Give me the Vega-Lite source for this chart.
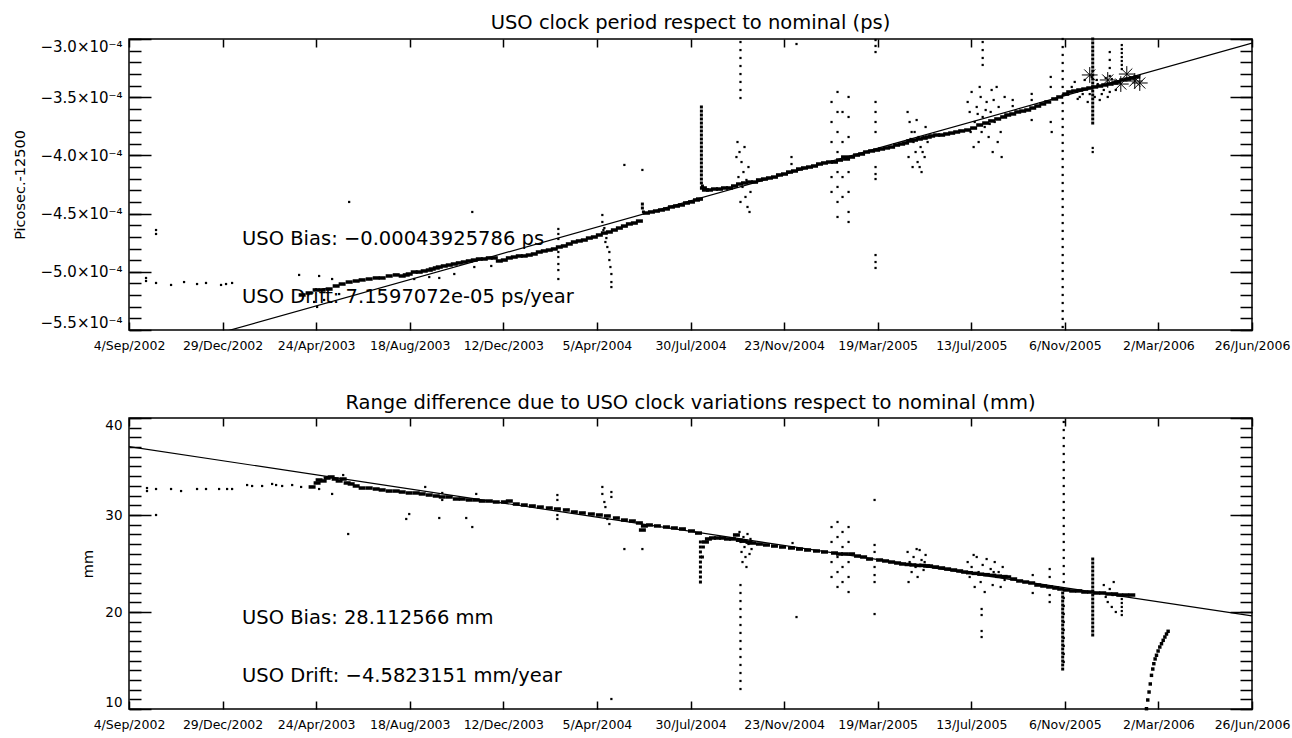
{
"$schema": "https://vega.github.io/schema/vega-lite/v6.json",
"background": "white",
"padding": {"left": 11, "top": 12, "right": 0, "bottom": 0},
"config": {
  "font": "DejaVu Sans",
  "view": {"stroke": "black", "strokeWidth": 1.5},
  "axis": {"grid": false, "domain": false, "labelColor": "black", "tickColor": "black", "tickWidth": 1.5, "titleColor": "black", "labelFont": "DejaVu Sans", "titleFont": "DejaVu Sans", "titleFontWeight": "normal"},
  "title": {"font": "DejaVu Sans", "fontWeight": "normal", "fontSize": 19.5, "color": "black", "anchor": "middle", "frame": "group", "offset": 0, "baseline": "alphabetic"}
},
"spacing": 88,
"bounds": "flush",
"datasets": {
"topTrace": [
{"d":214.5,"v":-5.199e-4},{"d":223.1,"v":-5.182e-4},{"d":231.8,"v":-5.156e-4},{"d":239.2,"v":-5.156e-4},{"d":247.9,"v":-5.148e-4},{"d":256.6,"v":-5.122e-4},{"d":264.0,"v":-5.105e-4},{"d":272.7,"v":-5.088e-4},{"d":281.4,"v":-5.079e-4},{"d":288.8,"v":-5.070e-4},{"d":297.5,"v":-5.062e-4},{"d":306.2,"v":-5.053e-4},{"d":313.6,"v":-5.053e-4},{"d":322.3,"v":-5.036e-4},{"d":331.0,"v":-5.027e-4},
{"d":338.4,"v":-5.036e-4},{"d":343.4,"v":-5.027e-4},{"d":347.1,"v":-5.019e-4},{"d":353.3,"v":-5.002e-4},{"d":359.5,"v":-5.002e-4},{"d":365.7,"v":-4.993e-4},{"d":371.9,"v":-4.985e-4},{"d":375.6,"v":-4.976e-4},{"d":380.6,"v":-4.967e-4},{"d":384.3,"v":-4.959e-4},{"d":390.5,"v":-4.950e-4},{"d":396.7,"v":-4.942e-4},{"d":402.9,"v":-4.933e-4},{"d":409.1,"v":-4.924e-4},{"d":415.3,"v":-4.916e-4},{"d":421.5,"v":-4.907e-4},{"d":427.7,"v":-4.899e-4},{"d":433.9,"v":-4.890e-4},{"d":440.1,"v":-4.890e-4},{"d":446.3,"v":-4.881e-4},{"d":452.5,"v":-4.881e-4},{"d":458.7,"v":-4.907e-4},
{"d":464.9,"v":-4.899e-4},{"d":471.1,"v":-4.881e-4},{"d":477.2,"v":-4.873e-4},{"d":483.4,"v":-4.864e-4},{"d":489.6,"v":-4.864e-4},{"d":495.8,"v":-4.856e-4},{"d":502.0,"v":-4.847e-4},{"d":508.2,"v":-4.830e-4},{"d":514.4,"v":-4.821e-4},{"d":520.6,"v":-4.813e-4},{"d":526.8,"v":-4.804e-4},{"d":533.0,"v":-4.787e-4},{"d":539.2,"v":-4.778e-4},{"d":545.4,"v":-4.761e-4},{"d":551.6,"v":-4.744e-4},{"d":557.8,"v":-4.735e-4},{"d":564.0,"v":-4.727e-4},{"d":570.2,"v":-4.710e-4},{"d":576.4,"v":-4.701e-4},{"d":582.6,"v":-4.684e-4},{"d":588.8,"v":-4.667e-4},{"d":595.0,"v":-4.658e-4},{"d":601.2,"v":-4.641e-4},{"d":607.4,"v":-4.624e-4},{"d":613.6,"v":-4.607e-4},{"d":619.8,"v":-4.589e-4},{"d":626.0,"v":-4.581e-4},{"d":632.2,"v":-4.564e-4},
{"d":640.9,"v":-4.495e-4},{"d":647.1,"v":-4.486e-4},{"d":653.3,"v":-4.478e-4},{"d":659.5,"v":-4.469e-4},{"d":665.7,"v":-4.460e-4},{"d":671.9,"v":-4.443e-4},{"d":678.1,"v":-4.435e-4},{"d":684.3,"v":-4.426e-4},{"d":690.5,"v":-4.409e-4},{"d":696.7,"v":-4.400e-4},{"d":702.9,"v":-4.383e-4},{"d":706.6,"v":-4.375e-4},
{"d":711.5,"v":-4.280e-4},{"d":714.0,"v":-4.297e-4},
{"d":719.0,"v":-4.297e-4},{"d":725.2,"v":-4.289e-4},{"d":731.4,"v":-4.289e-4},{"d":737.6,"v":-4.280e-4},{"d":743.8,"v":-4.280e-4},{"d":750.0,"v":-4.263e-4},{"d":756.2,"v":-4.246e-4},{"d":762.4,"v":-4.237e-4},{"d":768.6,"v":-4.229e-4},
{"d":774.8,"v":-4.229e-4},{"d":780.9,"v":-4.211e-4},{"d":787.1,"v":-4.203e-4},{"d":793.3,"v":-4.194e-4},{"d":799.5,"v":-4.186e-4},{"d":805.7,"v":-4.168e-4},{"d":811.9,"v":-4.160e-4},{"d":818.1,"v":-4.143e-4},{"d":824.3,"v":-4.134e-4},{"d":830.5,"v":-4.117e-4},{"d":836.7,"v":-4.108e-4},{"d":842.9,"v":-4.100e-4},{"d":849.1,"v":-4.091e-4},{"d":855.3,"v":-4.074e-4},{"d":861.5,"v":-4.065e-4},{"d":867.7,"v":-4.057e-4},
{"d":873.9,"v":-4.057e-4},{"d":880.1,"v":-4.040e-4},{"d":886.3,"v":-4.014e-4},{"d":888.8,"v":-4.031e-4},
{"d":895.0,"v":-4.014e-4},{"d":901.2,"v":-3.997e-4},{"d":907.4,"v":-3.988e-4},{"d":913.6,"v":-3.971e-4},{"d":919.8,"v":-3.962e-4},{"d":926.0,"v":-3.954e-4},
{"d":932.2,"v":-3.945e-4},{"d":938.4,"v":-3.936e-4},{"d":944.6,"v":-3.928e-4},{"d":950.8,"v":-3.911e-4},{"d":957.0,"v":-3.902e-4},{"d":961.9,"v":-3.893e-4},
{"d":967.0,"v":-3.876e-4},{"d":973.0,"v":-3.868e-4},{"d":979.0,"v":-3.859e-4},{"d":985.0,"v":-3.851e-4},{"d":990.0,"v":-3.842e-4},
{"d":994.2,"v":-3.833e-4},{"d":1000.4,"v":-3.825e-4},{"d":1006.6,"v":-3.825e-4},{"d":1012.8,"v":-3.816e-4},{"d":1019.0,"v":-3.808e-4},{"d":1025.2,"v":-3.799e-4},{"d":1031.4,"v":-3.790e-4},
{"d":1038.8,"v":-3.782e-4},{"d":1046.2,"v":-3.765e-4},{"d":1053.7,"v":-3.739e-4},{"d":1061.1,"v":-3.722e-4},{"d":1068.5,"v":-3.704e-4},{"d":1076.0,"v":-3.687e-4},{"d":1083.4,"v":-3.670e-4},
{"d":1088.4,"v":-3.653e-4},{"d":1094.6,"v":-3.644e-4},{"d":1100.8,"v":-3.627e-4},{"d":1107.0,"v":-3.619e-4},{"d":1113.2,"v":-3.610e-4},{"d":1119.4,"v":-3.593e-4},{"d":1125.6,"v":-3.576e-4},{"d":1131.8,"v":-3.558e-4},{"d":1138.0,"v":-3.541e-4},{"d":1146.6,"v":-3.515e-4},{"d":1152.8,"v":-3.498e-4},
{"d":1160.3,"v":-3.473e-4},{"d":1165.2,"v":-3.455e-4},{"d":1171.4,"v":-3.447e-4},{"d":1177.6,"v":-3.438e-4},{"d":1183.8,"v":-3.430e-4},{"d":1190.0,"v":-3.421e-4},{"d":1196.2,"v":-3.412e-4},{"d":1202.4,"v":-3.404e-4},{"d":1208.6,"v":-3.395e-4},{"d":1214.8,"v":-3.387e-4},{"d":1221.0,"v":-3.378e-4},
{"d":1224.7,"v":-3.369e-4},{"d":1230.9,"v":-3.352e-4},{"d":1237.1,"v":-3.344e-4},{"d":1243.3,"v":-3.335e-4},{"d":1248.3,"v":-3.326e-4}
],
"topSpikes": [
{"d":635.9,"v":-4.418e-4},{"d":635.9,"v":-4.452e-4},{"d":637.2,"v":-4.486e-4},
{"d":709.0,"v":-3.584e-4},{"d":709.0,"v":-3.619e-4},{"d":709.0,"v":-3.653e-4},{"d":709.0,"v":-3.687e-4},{"d":709.0,"v":-3.722e-4},{"d":709.0,"v":-3.756e-4},{"d":709.0,"v":-3.790e-4},{"d":709.0,"v":-3.825e-4},{"d":709.0,"v":-3.859e-4},{"d":709.0,"v":-3.893e-4},{"d":709.0,"v":-3.928e-4},{"d":709.0,"v":-3.962e-4},{"d":709.0,"v":-3.997e-4},{"d":709.0,"v":-4.031e-4},{"d":709.0,"v":-4.065e-4},{"d":709.0,"v":-4.100e-4},{"d":709.0,"v":-4.134e-4},{"d":709.0,"v":-4.168e-4},{"d":709.0,"v":-4.203e-4},{"d":709.0,"v":-4.237e-4},{"d":710.3,"v":-4.263e-4},
{"d":1193.7,"v":-3.000e-4},{"d":1193.7,"v":-3.034e-4},{"d":1193.7,"v":-3.069e-4},{"d":1193.7,"v":-3.103e-4},{"d":1193.7,"v":-3.137e-4},{"d":1193.7,"v":-3.172e-4},{"d":1193.7,"v":-3.206e-4},{"d":1193.7,"v":-3.241e-4},{"d":1193.7,"v":-3.275e-4},{"d":1193.7,"v":-3.309e-4},{"d":1193.7,"v":-3.344e-4},{"d":1193.7,"v":-3.378e-4},{"d":1193.7,"v":-3.412e-4},{"d":1193.7,"v":-3.447e-4},{"d":1193.7,"v":-3.481e-4},{"d":1193.7,"v":-3.515e-4},{"d":1193.7,"v":-3.550e-4},{"d":1193.7,"v":-3.584e-4},{"d":1193.7,"v":-3.619e-4},{"d":1193.7,"v":-3.653e-4},{"d":1193.7,"v":-3.687e-4},{"d":1193.7,"v":-3.722e-4}
],
"topScatter": [
{"d":21.1,"v":-5.053e-4},{"d":21.1,"v":-5.079e-4},{"d":33.5,"v":-5.096e-4},{"d":52.1,"v":-5.113e-4},{"d":68.2,"v":-5.088e-4},{"d":84.3,"v":-5.105e-4},{"d":95.4,"v":-5.096e-4},{"d":114.0,"v":-5.113e-4},{"d":120.2,"v":-5.105e-4},{"d":127.7,"v":-5.096e-4},{"d":33.5,"v":-4.675e-4},{"d":33.5,"v":-4.641e-4},{"d":210.7,"v":-5.027e-4},{"d":235.5,"v":-5.036e-4},{"d":251.6,"v":-5.062e-4},{"d":272.7,"v":-4.400e-4},{"d":425.2,"v":-4.486e-4},
{"d":229.3,"v":-5.259e-4},{"d":233.0,"v":-5.302e-4},{"d":241.7,"v":-5.242e-4},{"d":247.9,"v":-5.259e-4},{"d":260.3,"v":-5.191e-4},
{"d":353.3,"v":-5.062e-4},{"d":371.9,"v":-5.045e-4},{"d":384.3,"v":-5.053e-4},{"d":402.9,"v":-5.019e-4},{"d":427.7,"v":-4.959e-4},{"d":448.7,"v":-4.950e-4},
{"d":531.8,"v":-4.632e-4},{"d":531.8,"v":-4.675e-4},{"d":531.8,"v":-4.718e-4},{"d":531.8,"v":-4.830e-4},{"d":531.8,"v":-4.873e-4},{"d":531.8,"v":-4.933e-4},{"d":531.8,"v":-4.985e-4},{"d":531.8,"v":-5.062e-4},
{"d":586.3,"v":-4.512e-4},{"d":586.3,"v":-4.572e-4},{"d":587.6,"v":-4.641e-4},{"d":588.8,"v":-4.624e-4},{"d":590.1,"v":-4.744e-4},{"d":591.3,"v":-4.710e-4},{"d":592.5,"v":-4.787e-4},{"d":595.0,"v":-4.830e-4},{"d":595.0,"v":-4.899e-4},{"d":596.3,"v":-4.959e-4},{"d":597.5,"v":-5.019e-4},{"d":597.5,"v":-5.088e-4},{"d":597.5,"v":-5.131e-4},
{"d":613.6,"v":-4.082e-4},{"d":635.9,"v":-4.125e-4},{"d":826.8,"v":-3.043e-4},
{"d":752.4,"v":-4.014e-4},{"d":753.7,"v":-3.885e-4},{"d":754.9,"v":-4.186e-4},{"d":756.2,"v":-3.971e-4},{"d":757.4,"v":-4.400e-4},{"d":758.7,"v":-4.057e-4},{"d":759.9,"v":-4.271e-4},{"d":761.1,"v":-4.143e-4},{"d":762.4,"v":-3.928e-4},{"d":763.6,"v":-4.357e-4},{"d":764.8,"v":-4.211e-4},{"d":766.1,"v":-4.443e-4},{"d":767.3,"v":-4.100e-4},{"d":768.6,"v":-4.486e-4},{"d":769.8,"v":-4.314e-4},
{"d":757.4,"v":-3.026e-4},{"d":757.4,"v":-3.095e-4},{"d":757.4,"v":-3.163e-4},{"d":757.4,"v":-3.232e-4},{"d":757.4,"v":-3.301e-4},{"d":757.4,"v":-3.369e-4},{"d":757.4,"v":-3.438e-4},{"d":757.4,"v":-3.507e-4},
{"d":820.6,"v":-4.014e-4},{"d":820.6,"v":-4.074e-4},
{"d":870.2,"v":-3.541e-4},{"d":870.2,"v":-3.713e-4},{"d":870.2,"v":-3.885e-4},{"d":870.2,"v":-4.186e-4},{"d":870.2,"v":-4.314e-4},
{"d":877.6,"v":-3.455e-4},{"d":877.6,"v":-3.627e-4},{"d":877.6,"v":-3.799e-4},{"d":877.6,"v":-3.971e-4},{"d":877.6,"v":-4.143e-4},{"d":877.6,"v":-4.271e-4},{"d":877.6,"v":-4.400e-4},{"d":877.6,"v":-4.529e-4},
{"d":883.8,"v":-3.627e-4},{"d":883.8,"v":-3.885e-4},{"d":883.8,"v":-4.186e-4},{"d":883.8,"v":-4.357e-4},
{"d":891.3,"v":-3.498e-4},{"d":891.3,"v":-3.670e-4},{"d":891.3,"v":-3.842e-4},{"d":891.3,"v":-4.143e-4},{"d":891.3,"v":-4.314e-4},{"d":891.3,"v":-4.486e-4},{"d":891.3,"v":-4.572e-4},
{"d":924.7,"v":-3.541e-4},{"d":924.7,"v":-3.627e-4},{"d":924.7,"v":-3.713e-4},{"d":924.7,"v":-3.799e-4},{"d":924.7,"v":-4.100e-4},{"d":924.7,"v":-4.160e-4},{"d":924.7,"v":-4.203e-4},{"d":924.7,"v":-3.009e-4},{"d":924.7,"v":-3.060e-4},{"d":924.7,"v":-3.112e-4},{"d":924.7,"v":-4.856e-4},{"d":924.7,"v":-4.916e-4},{"d":924.7,"v":-4.967e-4},
{"d":964.4,"v":-3.627e-4},{"d":965.6,"v":-4.014e-4},{"d":966.9,"v":-3.713e-4},{"d":968.1,"v":-3.859e-4},{"d":969.4,"v":-3.799e-4},{"d":970.6,"v":-4.100e-4},{"d":971.8,"v":-3.885e-4},{"d":973.1,"v":-3.799e-4},{"d":974.3,"v":-3.971e-4},{"d":975.6,"v":-3.696e-4},{"d":976.8,"v":-4.057e-4},{"d":978.0,"v":-3.842e-4},{"d":979.3,"v":-4.100e-4},{"d":980.5,"v":-3.928e-4},{"d":981.7,"v":-4.143e-4},{"d":983.0,"v":-3.971e-4},{"d":984.2,"v":-3.842e-4},{"d":985.5,"v":-4.014e-4},{"d":986.7,"v":-3.756e-4},{"d":989.2,"v":-3.885e-4},
{"d":1038.8,"v":-3.541e-4},{"d":1041.3,"v":-3.627e-4},{"d":1042.5,"v":-3.799e-4},{"d":1043.7,"v":-3.455e-4},{"d":1046.2,"v":-3.928e-4},{"d":1047.5,"v":-3.713e-4},{"d":1050.0,"v":-3.584e-4},{"d":1051.2,"v":-3.644e-4},{"d":1052.4,"v":-3.885e-4},{"d":1053.7,"v":-3.412e-4},{"d":1054.9,"v":-3.498e-4},{"d":1056.1,"v":-3.799e-4},{"d":1057.4,"v":-3.670e-4},{"d":1059.9,"v":-3.756e-4},{"d":1061.1,"v":-3.610e-4},{"d":1062.3,"v":-3.541e-4},{"d":1064.8,"v":-3.842e-4},{"d":1066.1,"v":-3.730e-4},{"d":1067.3,"v":-3.627e-4},{"d":1068.5,"v":-3.438e-4},{"d":1069.8,"v":-3.971e-4},{"d":1071.0,"v":-3.524e-4},{"d":1072.3,"v":-3.713e-4},{"d":1074.7,"v":-3.412e-4},{"d":1076.0,"v":-3.885e-4},{"d":1077.2,"v":-3.584e-4},{"d":1079.7,"v":-3.799e-4},{"d":1080.9,"v":-4.014e-4},{"d":1082.2,"v":-3.670e-4},{"d":1084.6,"v":-3.498e-4},
{"d":1057.4,"v":-3.026e-4},{"d":1057.4,"v":-3.095e-4},{"d":1057.4,"v":-3.163e-4},{"d":1057.4,"v":-3.223e-4},
{"d":1118.1,"v":-3.472e-4},{"d":1118.1,"v":-3.524e-4},{"d":1118.1,"v":-3.696e-4},{"d":1094.6,"v":-3.524e-4},{"d":1094.6,"v":-3.576e-4},{"d":1141.7,"v":-3.326e-4},{"d":1141.7,"v":-3.412e-4},{"d":1141.7,"v":-3.713e-4},{"d":1142.9,"v":-3.799e-4},
{"d":1156.5,"v":-3.000e-4},{"d":1156.5,"v":-3.069e-4},{"d":1156.5,"v":-3.137e-4},{"d":1156.5,"v":-3.206e-4},{"d":1156.5,"v":-3.275e-4},{"d":1156.5,"v":-3.344e-4},{"d":1156.5,"v":-3.412e-4},{"d":1156.5,"v":-3.481e-4},{"d":1156.5,"v":-3.550e-4},{"d":1156.5,"v":-3.619e-4},{"d":1156.5,"v":-3.687e-4},{"d":1156.5,"v":-3.756e-4},{"d":1156.5,"v":-3.825e-4},{"d":1156.5,"v":-3.893e-4},{"d":1156.5,"v":-3.962e-4},{"d":1156.5,"v":-4.031e-4},{"d":1156.5,"v":-4.100e-4},{"d":1156.5,"v":-4.168e-4},{"d":1156.5,"v":-4.237e-4},{"d":1156.5,"v":-4.306e-4},{"d":1156.5,"v":-4.375e-4},{"d":1156.5,"v":-4.443e-4},{"d":1156.5,"v":-4.512e-4},{"d":1156.5,"v":-4.581e-4},{"d":1156.5,"v":-4.649e-4},{"d":1156.5,"v":-4.718e-4},{"d":1156.5,"v":-4.787e-4},{"d":1156.5,"v":-4.856e-4},{"d":1156.5,"v":-4.924e-4},{"d":1156.5,"v":-4.993e-4},{"d":1156.5,"v":-5.062e-4},{"d":1156.5,"v":-5.131e-4},{"d":1156.5,"v":-5.199e-4},{"d":1156.5,"v":-5.268e-4},{"d":1156.5,"v":-5.337e-4},{"d":1156.5,"v":-5.405e-4},{"d":1156.5,"v":-5.474e-4},
{"d":1167.7,"v":-3.412e-4},{"d":1171.4,"v":-3.369e-4},{"d":1175.1,"v":-3.515e-4},{"d":1177.6,"v":-3.498e-4},{"d":1181.3,"v":-3.473e-4},{"d":1183.8,"v":-3.352e-4},{"d":1187.5,"v":-3.541e-4},{"d":1190.0,"v":-3.473e-4},{"d":1192.5,"v":-3.326e-4},{"d":1196.2,"v":-3.498e-4},{"d":1198.7,"v":-3.352e-4},{"d":1199.9,"v":-3.387e-4},{"d":1202.4,"v":-3.524e-4},{"d":1204.9,"v":-3.473e-4},{"d":1207.4,"v":-3.438e-4},{"d":1209.8,"v":-3.335e-4},{"d":1212.3,"v":-3.498e-4},{"d":1214.8,"v":-3.455e-4},{"d":1217.3,"v":-3.344e-4},{"d":1222.3,"v":-3.438e-4},
{"d":1193.7,"v":-3.936e-4},{"d":1193.7,"v":-3.971e-4},
{"d":1214.8,"v":-3.112e-4},{"d":1214.8,"v":-3.180e-4},{"d":1214.8,"v":-3.249e-4},{"d":1214.8,"v":-3.318e-4},
{"d":1229.7,"v":-3.052e-4},{"d":1229.7,"v":-3.086e-4},{"d":1229.7,"v":-3.120e-4},{"d":1229.7,"v":-3.155e-4},{"d":1229.7,"v":-3.189e-4},{"d":1229.7,"v":-3.223e-4},{"d":1229.7,"v":-3.258e-4}
],
"topStars": [
{"d":1190.0,"v":-3.309e-4},{"d":1235.9,"v":-3.301e-4},{"d":1245.8,"v":-3.361e-4},{"d":1252.0,"v":-3.378e-4},{"d":1228.5,"v":-3.387e-4},{"d":1212.3,"v":-3.352e-4}
],
"topFit": [{"d":0,"v":-5.745e-4},{"d":1391,"v":-3.035e-4}],
"topNotes": [
{"d":140,"v":-4.77e-4,"label":"USO Bias: −0.00043925786 ps"},
{"d":140,"v":-5.268e-4,"label":"USO Drift: 7.1597072e-05 ps/year"}
],
"botTrace": [
{"d":226.8,"v":32.89},{"d":233.0,"v":33.30},{"d":235.5,"v":33.61},{"d":240.5,"v":33.51},{"d":245.4,"v":33.81},{"d":250.4,"v":33.92},{"d":255.4,"v":33.71},{"d":260.3,"v":33.51},{"d":265.3,"v":33.71},{"d":270.2,"v":33.30},{"d":275.2,"v":33.20},{"d":281.4,"v":32.99},{"d":288.8,"v":32.78},{"d":297.5,"v":32.78},{"d":306.2,"v":32.68},{"d":313.6,"v":32.58},{"d":322.3,"v":32.47},{"d":331.0,"v":32.47},{"d":338.4,"v":32.37},{"d":347.1,"v":32.27},{"d":355.8,"v":32.27},{"d":363.2,"v":32.17},{"d":371.9,"v":32.06},{"d":380.6,"v":31.96},{"d":388.0,"v":31.86},{"d":396.7,"v":31.86},{"d":405.4,"v":31.65},{"d":412.8,"v":31.65},{"d":421.5,"v":31.55},{"d":430.1,"v":31.55},{"d":437.6,"v":31.44},{"d":446.3,"v":31.44},{"d":454.9,"v":31.34},{"d":464.9,"v":31.34},{"d":471.1,"v":31.44},{"d":479.7,"v":31.13},{"d":489.6,"v":31.03},{"d":499.6,"v":30.93},{"d":509.5,"v":30.82},{"d":520.6,"v":30.72},{"d":530.6,"v":30.62},{"d":541.7,"v":30.52},{"d":551.6,"v":30.31},{"d":561.5,"v":30.21},{"d":572.7,"v":30.10},{"d":582.6,"v":30.00},{"d":592.5,"v":29.90},{"d":603.7,"v":29.69},{"d":613.6,"v":29.48},{"d":623.5,"v":29.38},{"d":632.2,"v":29.18},{"d":635.9,"v":28.45},{"d":638.4,"v":28.87},{"d":644.6,"v":28.97},{"d":654.5,"v":28.87},{"d":665.7,"v":28.76},{"d":675.5,"v":28.66},{"d":685.5,"v":28.56},{"d":696.7,"v":28.35},{"d":705.4,"v":28.14},
{"d":714.0,"v":27.22},{"d":717.7,"v":27.53},
{"d":722.7,"v":27.63},{"d":728.9,"v":27.63},{"d":735.1,"v":27.63},{"d":741.3,"v":27.53},{"d":747.5,"v":27.53},{"d":752.4,"v":27.94},{"d":756.0,"v":27.40},{"d":762.0,"v":27.30},{"d":768.0,"v":27.20},
{"d":772.3,"v":27.11},{"d":780.9,"v":27.01},{"d":789.6,"v":26.91},{"d":799.5,"v":26.80},{"d":809.5,"v":26.70},{"d":820.6,"v":26.60},{"d":830.5,"v":26.49},{"d":840.5,"v":26.39},{"d":851.6,"v":26.29},{"d":861.5,"v":26.19},{"d":873.9,"v":26.08},{"d":880.1,"v":25.98},{"d":886.3,"v":25.98},{"d":895.0,"v":25.98},{"d":902.4,"v":25.77},{"d":909.9,"v":25.67},{"d":917.3,"v":25.46},{"d":929.7,"v":25.36},{"d":937.1,"v":25.26},{"d":944.6,"v":25.15},{"d":952.0,"v":25.05},{"d":958.2,"v":24.95},
{"d":965.0,"v":24.90},{"d":971.0,"v":24.85},{"d":977.0,"v":24.80},{"d":983.0,"v":24.80},{"d":988.0,"v":24.75},
{"d":991.7,"v":24.74},{"d":999.1,"v":24.64},{"d":1006.6,"v":24.54},{"d":1014.0,"v":24.43},{"d":1021.5,"v":24.33},{"d":1028.9,"v":24.23},{"d":1035.1,"v":24.12},
{"d":1041.0,"v":24.05},{"d":1048.0,"v":23.98},{"d":1055.0,"v":23.90},{"d":1062.0,"v":23.85},{"d":1070.0,"v":23.78},{"d":1077.0,"v":23.70},{"d":1084.0,"v":23.65},
{"d":1088.4,"v":23.61},{"d":1095.8,"v":23.40},{"d":1103.2,"v":23.20},{"d":1110.7,"v":23.09},{"d":1118.1,"v":22.99},{"d":1125.6,"v":22.78},{"d":1133.0,"v":22.68},{"d":1140.4,"v":22.58},{"d":1147.9,"v":22.47},{"d":1154.1,"v":22.37},
{"d":1161.5,"v":22.27},{"d":1168.9,"v":22.17},{"d":1176.4,"v":22.17},{"d":1183.8,"v":22.06},{"d":1191.2,"v":22.06},{"d":1198.7,"v":21.96},{"d":1206.1,"v":21.96},{"d":1213.6,"v":21.86},{"d":1221.0,"v":21.86},{"d":1227.2,"v":21.75},{"d":1234.6,"v":21.75},{"d":1242.1,"v":21.75}
],
"botSpikes": [
{"d":707.8,"v":27.22},{"d":707.8,"v":26.70},{"d":707.8,"v":26.19},{"d":707.8,"v":25.67},{"d":707.8,"v":25.15},{"d":707.8,"v":24.64},{"d":707.8,"v":24.12},{"d":707.8,"v":23.61},{"d":707.8,"v":23.09},
{"d":710.3,"v":25.67},{"d":711.5,"v":26.70},
{"d":1193.7,"v":25.46},{"d":1193.7,"v":25.05},{"d":1193.7,"v":24.64},{"d":1193.7,"v":24.23},{"d":1193.7,"v":23.81},{"d":1193.7,"v":23.40},{"d":1193.7,"v":22.99},{"d":1193.7,"v":22.58},{"d":1193.7,"v":22.17},{"d":1193.7,"v":21.75},{"d":1193.7,"v":21.34},{"d":1193.7,"v":20.93},{"d":1193.7,"v":20.52},{"d":1193.7,"v":20.10},{"d":1193.7,"v":19.69},{"d":1193.7,"v":19.28},{"d":1193.7,"v":18.87},{"d":1193.7,"v":18.45},{"d":1193.7,"v":18.04},{"d":1193.7,"v":17.63},
{"d":1156.5,"v":21.96},{"d":1156.5,"v":21.55},{"d":1156.5,"v":21.13},{"d":1156.5,"v":20.72},{"d":1156.5,"v":20.31},{"d":1156.5,"v":19.90},{"d":1156.5,"v":19.48},{"d":1156.5,"v":19.07},{"d":1156.5,"v":18.66},{"d":1156.5,"v":18.25},{"d":1156.5,"v":17.84},{"d":1156.5,"v":17.42},{"d":1156.5,"v":17.01},{"d":1156.5,"v":16.60},{"d":1156.5,"v":16.19},{"d":1156.5,"v":15.77},{"d":1156.5,"v":15.36},{"d":1156.5,"v":14.95},{"d":1156.5,"v":14.54},{"d":1156.5,"v":14.12}
],
"botScatter": [
{"d":22.3,"v":32.78},{"d":22.3,"v":32.47},{"d":33.5,"v":32.68},{"d":52.1,"v":32.68},{"d":64.5,"v":32.47},{"d":84.3,"v":32.68},{"d":95.4,"v":32.68},{"d":111.6,"v":32.68},{"d":121.5,"v":32.68},{"d":127.7,"v":32.68},{"d":146.3,"v":33.09},{"d":152.5,"v":32.99},{"d":164.9,"v":32.99},{"d":177.3,"v":33.20},{"d":182.2,"v":33.09},{"d":189.7,"v":32.99},{"d":202.1,"v":33.09},{"d":213.2,"v":32.89},
{"d":33.5,"v":30.00},{"d":271.5,"v":28.04},{"d":251.6,"v":32.17},{"d":347.1,"v":30.10},{"d":343.4,"v":29.59},{"d":384.3,"v":29.69},{"d":417.7,"v":29.69},{"d":425.2,"v":28.76},{"d":597.5,"v":11.03},{"d":613.6,"v":26.49},{"d":635.9,"v":26.49},{"d":826.8,"v":19.48},
{"d":235.5,"v":32.68},{"d":265.3,"v":34.12},{"d":366.9,"v":32.89},{"d":388.0,"v":32.27},{"d":388.0,"v":31.55},{"d":430.1,"v":32.17},
{"d":530.6,"v":32.06},{"d":530.6,"v":31.55},{"d":530.6,"v":30.00},{"d":530.6,"v":29.59},
{"d":586.3,"v":32.89},{"d":586.3,"v":32.17},{"d":588.8,"v":31.34},{"d":590.1,"v":30.82},{"d":592.5,"v":29.59},{"d":595.0,"v":29.07},{"d":597.5,"v":32.37},{"d":597.5,"v":31.86},
{"d":756.2,"v":28.25},{"d":757.4,"v":27.22},{"d":758.7,"v":26.19},{"d":759.9,"v":25.15},{"d":761.1,"v":27.73},{"d":762.4,"v":26.70},{"d":763.6,"v":25.67},{"d":764.8,"v":24.64},{"d":766.1,"v":28.04},{"d":767.3,"v":27.01},{"d":768.6,"v":25.98},{"d":769.8,"v":27.53},{"d":771.1,"v":26.49},
{"d":757.4,"v":22.78},{"d":757.4,"v":21.96},{"d":757.4,"v":21.13},{"d":757.4,"v":20.31},{"d":757.4,"v":19.48},{"d":757.4,"v":18.66},{"d":757.4,"v":17.84},{"d":757.4,"v":17.01},{"d":757.4,"v":16.19},{"d":757.4,"v":15.36},{"d":757.4,"v":14.54},{"d":757.4,"v":13.71},{"d":757.4,"v":12.89},{"d":757.4,"v":12.06},
{"d":821.9,"v":27.11},
{"d":870.2,"v":28.76},{"d":870.2,"v":27.22},{"d":870.2,"v":25.15},{"d":870.2,"v":23.61},{"d":877.6,"v":29.28},{"d":877.6,"v":27.73},{"d":877.6,"v":25.67},{"d":877.6,"v":24.12},{"d":877.6,"v":22.58},{"d":883.8,"v":28.25},{"d":883.8,"v":26.70},{"d":883.8,"v":24.64},{"d":883.8,"v":23.09},{"d":891.3,"v":28.76},{"d":891.3,"v":27.22},{"d":891.3,"v":25.15},{"d":891.3,"v":23.61},{"d":891.3,"v":22.06},
{"d":923.5,"v":26.91},{"d":923.5,"v":26.19},{"d":923.5,"v":24.64},{"d":923.5,"v":23.81},{"d":923.5,"v":23.09},{"d":923.5,"v":31.55},{"d":923.5,"v":19.79},
{"d":964.4,"v":26.19},{"d":966.9,"v":25.15},{"d":969.4,"v":24.12},{"d":971.8,"v":25.67},{"d":974.3,"v":24.64},{"d":976.8,"v":23.61},{"d":979.3,"v":26.39},{"d":981.7,"v":25.36},{"d":984.2,"v":24.33},{"d":986.7,"v":25.88},{"d":965.6,"v":23.09},{"d":975.6,"v":26.49},{"d":980.5,"v":24.85},{"d":985.5,"v":25.15},
{"d":1038.8,"v":25.15},{"d":1041.3,"v":23.61},{"d":1043.7,"v":24.64},{"d":1047.5,"v":22.58},{"d":1050.0,"v":25.67},{"d":1052.4,"v":24.12},{"d":1054.9,"v":23.09},{"d":1057.4,"v":24.85},{"d":1059.9,"v":22.06},{"d":1062.3,"v":25.46},{"d":1064.8,"v":23.81},{"d":1067.3,"v":24.43},{"d":1069.8,"v":22.78},{"d":1072.3,"v":25.15},{"d":1074.7,"v":23.61},{"d":1077.2,"v":24.12},{"d":1079.7,"v":22.58},{"d":1082.2,"v":24.64},{"d":1084.6,"v":23.30},{"d":1046.2,"v":25.88},{"d":1061.1,"v":23.81},{"d":1071.0,"v":24.12},
{"d":1056.1,"v":20.31},{"d":1056.1,"v":19.69},{"d":1056.1,"v":18.04},{"d":1056.1,"v":17.42},
{"d":1119.4,"v":23.81},{"d":1119.4,"v":21.96},{"d":1140.4,"v":24.43},{"d":1140.4,"v":23.61},{"d":1140.4,"v":21.75},{"d":1140.4,"v":21.03},
{"d":1157.8,"v":39.59},{"d":1157.8,"v":38.76},{"d":1157.8,"v":37.94},{"d":1157.8,"v":37.11},{"d":1157.8,"v":36.29},{"d":1157.8,"v":35.46},{"d":1157.8,"v":34.64},{"d":1157.8,"v":33.81},{"d":1157.8,"v":32.99},{"d":1157.8,"v":32.16},{"d":1157.8,"v":31.34},{"d":1157.8,"v":30.52},{"d":1157.8,"v":29.69},{"d":1157.8,"v":28.87},{"d":1157.8,"v":28.04},{"d":1157.8,"v":27.22},{"d":1157.8,"v":26.39},{"d":1157.8,"v":25.57},{"d":1157.8,"v":24.74},{"d":1157.8,"v":23.92},{"d":1157.8,"v":23.09},{"d":1157.8,"v":22.27},{"d":1157.8,"v":21.44},{"d":1157.8,"v":20.62},{"d":1157.8,"v":19.79},{"d":1157.8,"v":18.97},{"d":1157.8,"v":18.14},{"d":1157.8,"v":17.32},{"d":1157.8,"v":16.50},{"d":1157.8,"v":15.67},{"d":1157.8,"v":14.85},
{"d":1207.4,"v":22.78},{"d":1209.8,"v":21.55},{"d":1212.3,"v":21.03},{"d":1214.8,"v":22.37},{"d":1217.3,"v":20.52},{"d":1219.7,"v":23.09},{"d":1222.3,"v":20.00},{"d":1218.5,"v":21.75},
{"d":1229.7,"v":21.34},{"d":1229.7,"v":20.93},{"d":1229.7,"v":20.52},{"d":1229.7,"v":20.10},{"d":1229.7,"v":19.69}
],
"botCurve": [
{"d":1260.3,"v":10.03},{"d":1261.9,"v":10.93},{"d":1263.5,"v":11.75},{"d":1265.0,"v":12.58},{"d":1266.5,"v":13.47},{"d":1268.1,"v":14.12},{"d":1269.4,"v":14.67},{"d":1271.0,"v":15.16},{"d":1272.7,"v":15.54},{"d":1274.7,"v":15.98},{"d":1276.8,"v":16.39},{"d":1278.9,"v":16.73},{"d":1281.0,"v":17.08},{"d":1283.1,"v":17.42},{"d":1285.1,"v":17.73},{"d":1287.1,"v":18.01}
],
"botFit": [{"d":0,"v":37.05},{"d":1391,"v":19.6}],
"botNotes": [
{"d":140,"v":18.76,"label":"USO Bias: 28.112566 mm"},
{"d":140,"v":12.78,"label":"USO Drift: −4.5823151 mm/year"}
]
},
"vconcat": [
{
  "title": {"text": "USO clock period respect to nominal (ps)"},
  "width": 1123, "height": 291,
  "resolve": {"axis": {"x": "independent", "y": "independent"}},
  "layer": [
    {
      "data": {"name": "topTrace"},
      "mark": {"type": "point", "shape": "M-1,-0.5L1,-0.5L1,0.5L-1,0.5Z", "size": 49, "filled": true, "color": "black", "opacity": 1, "strokeWidth": 0},
      "encoding": {
        "x": {"field": "d", "type": "quantitative", "scale": {"domain": [0, 1391], "nice": false, "zero": false},
              "axis": {"orient": "bottom", "values": [0,115.9167,231.8333,347.75,463.6667,579.5833,695.5,811.4167,927.3333,1043.25,1159.1667,1275.0833,1391], "labelExpr": "utcFormat(utc(2002, 8, 4, 9) + datum.value * 86400000, '%-d/%b/%Y')", "ticks": false, "labelFontSize": 12.5, "labelPadding": 9, "labelFlush": false, "labelOverlap": false, "title": null}},
        "y": {"field": "v", "type": "quantitative", "scale": {"domain": [-5.5e-4, -3.0e-4], "nice": false, "zero": false},
              "axis": {"orient": "left", "values": [-3.0e-4,-3.5e-4,-4.0e-4,-4.5e-4,-5.0e-4,-5.5e-4], "labelExpr": "'−' + format(-datum.value * 10000, '.1f') + '×10⁻⁴'", "ticks": false, "labelFontSize": 15, "labelPadding": 7, "labelFlush": true, "labelOverlap": false, "title": "Picosec.-12500", "titleFontSize": 14.5, "titleX": -105, "titleBaseline": "alphabetic"}}
      }
    },
    {
      "data": {"name": "topScatter"},
      "mark": {"type": "square", "size": 5, "color": "black", "opacity": 1},
      "encoding": {
        "x": {"field": "d", "type": "quantitative", "scale": {"domain": [0, 1391], "nice": false, "zero": false},
              "axis": {"orient": "bottom", "values": [0,115.9167,231.8333,347.75,463.6667,579.5833,695.5,811.4167,927.3333,1043.25,1159.1667,1275.0833,1391], "labels": false, "ticks": true, "tickSize": 8, "offset": -8, "zindex": 1, "title": null}},
        "y": {"field": "v", "type": "quantitative", "scale": {"domain": [-5.5e-4, -3.0e-4], "nice": false, "zero": false},
              "axis": {"orient": "left", "values": [-3.0e-4,-3.5e-4,-4.0e-4,-4.5e-4,-5.0e-4,-5.5e-4], "labels": false, "ticks": true, "tickSize": 22, "offset": -22, "zindex": 1, "title": null}}
      }
    },
    {
      "data": {"name": "topStars"},
      "mark": {"type": "point", "shape": "M-1,0L1,0M0,-1L0,1M-0.7,-0.7L0.7,0.7M-0.7,0.7L0.7,-0.7", "size": 250, "filled": false, "stroke": "black", "strokeWidth": 1, "opacity": 1},
      "encoding": {
        "x": {"field": "d", "type": "quantitative", "scale": {"domain": [0, 1391], "nice": false, "zero": false},
              "axis": {"orient": "top", "values": [0,115.9167,231.8333,347.75,463.6667,579.5833,695.5,811.4167,927.3333,1043.25,1159.1667,1275.0833,1391], "labels": false, "ticks": true, "tickSize": 8, "offset": -8, "zindex": 1, "title": null}},
        "y": {"field": "v", "type": "quantitative", "scale": {"domain": [-5.5e-4, -3.0e-4], "nice": false, "zero": false},
              "axis": {"orient": "left", "values": [-3.0e-4,-3.1e-4,-3.2e-4,-3.3e-4,-3.4e-4,-3.5e-4,-3.6e-4,-3.7e-4,-3.8e-4,-3.9e-4,-4.0e-4,-4.1e-4,-4.2e-4,-4.3e-4,-4.4e-4,-4.5e-4,-4.6e-4,-4.7e-4,-4.8e-4,-4.9e-4,-5.0e-4,-5.1e-4,-5.2e-4,-5.3e-4,-5.4e-4,-5.5e-4], "labels": false, "ticks": true, "tickSize": 12, "offset": -12, "zindex": 1, "title": null}}
      }
    },
    {
      "data": {"name": "topFit"},
      "mark": {"type": "line", "color": "black", "strokeWidth": 1.2, "clip": true},
      "encoding": {
        "x": {"field": "d", "type": "quantitative", "scale": {"domain": [0, 1391], "nice": false, "zero": false}, "axis": null},
        "y": {"field": "v", "type": "quantitative", "scale": {"domain": [-5.5e-4, -3.0e-4], "nice": false, "zero": false},
              "axis": {"orient": "right", "values": [-3.0e-4,-3.5e-4,-4.0e-4,-4.5e-4,-5.0e-4,-5.5e-4], "labels": false, "ticks": true, "tickSize": 22, "offset": -22, "zindex": 1, "title": null}}
      }
    },
    {
      "data": {"name": "topNotes"},
      "mark": {"type": "text", "align": "left", "baseline": "alphabetic", "fontSize": 19.5, "font": "DejaVu Sans", "color": "black"},
      "encoding": {
        "x": {"field": "d", "type": "quantitative", "scale": {"domain": [0, 1391], "nice": false, "zero": false}, "axis": null},
        "y": {"field": "v", "type": "quantitative", "scale": {"domain": [-5.5e-4, -3.0e-4], "nice": false, "zero": false},
              "axis": {"orient": "right", "values": [-3.0e-4,-3.1e-4,-3.2e-4,-3.3e-4,-3.4e-4,-3.5e-4,-3.6e-4,-3.7e-4,-3.8e-4,-3.9e-4,-4.0e-4,-4.1e-4,-4.2e-4,-4.3e-4,-4.4e-4,-4.5e-4,-4.6e-4,-4.7e-4,-4.8e-4,-4.9e-4,-5.0e-4,-5.1e-4,-5.2e-4,-5.3e-4,-5.4e-4,-5.5e-4], "labels": false, "ticks": true, "tickSize": 12, "offset": -12, "zindex": 1, "title": null}},
        "text": {"field": "label", "type": "nominal"}
      }
    },
    {
      "data": {"name": "topSpikes"},
      "mark": {"type": "square", "size": 9, "color": "black", "opacity": 1},
      "encoding": {
        "x": {"field": "d", "type": "quantitative", "scale": {"domain": [0, 1391], "nice": false, "zero": false}, "axis": null},
        "y": {"field": "v", "type": "quantitative", "scale": {"domain": [-5.5e-4, -3.0e-4], "nice": false, "zero": false}, "axis": null}
      }
    }
  ]
},
{
  "title": {"text": "Range difference due to USO clock variations respect to nominal (mm)"},
  "width": 1123, "height": 291,
  "resolve": {"axis": {"x": "independent", "y": "independent"}},
  "layer": [
    {
      "data": {"name": "botTrace"},
      "mark": {"type": "point", "shape": "M-1,-0.5L1,-0.5L1,0.5L-1,0.5Z", "size": 49, "filled": true, "color": "black", "opacity": 1, "strokeWidth": 0},
      "encoding": {
        "x": {"field": "d", "type": "quantitative", "scale": {"domain": [0, 1391], "nice": false, "zero": false},
              "axis": {"orient": "bottom", "values": [0,115.9167,231.8333,347.75,463.6667,579.5833,695.5,811.4167,927.3333,1043.25,1159.1667,1275.0833,1391], "labelExpr": "utcFormat(utc(2002, 8, 4, 9) + datum.value * 86400000, '%-d/%b/%Y')", "ticks": false, "labelFontSize": 12.5, "labelPadding": 9, "labelFlush": false, "labelOverlap": false, "title": null}},
        "y": {"field": "v", "type": "quantitative", "scale": {"domain": [10, 40], "nice": false, "zero": false},
              "axis": {"orient": "left", "values": [10, 20, 30, 40], "ticks": false, "labelFontSize": 13.5, "labelPadding": 7, "labelFlush": true, "labelOverlap": false, "title": "mm", "titleFontSize": 14.5, "titleX": -37, "titleBaseline": "alphabetic"}}
      }
    },
    {
      "data": {"name": "botScatter"},
      "mark": {"type": "square", "size": 5, "color": "black", "opacity": 1},
      "encoding": {
        "x": {"field": "d", "type": "quantitative", "scale": {"domain": [0, 1391], "nice": false, "zero": false},
              "axis": {"orient": "bottom", "values": [0,115.9167,231.8333,347.75,463.6667,579.5833,695.5,811.4167,927.3333,1043.25,1159.1667,1275.0833,1391], "labels": false, "ticks": true, "tickSize": 8, "offset": -8, "zindex": 1, "title": null}},
        "y": {"field": "v", "type": "quantitative", "scale": {"domain": [10, 40], "nice": false, "zero": false},
              "axis": {"orient": "left", "values": [10, 20, 30, 40], "labels": false, "ticks": true, "tickSize": 22, "offset": -22, "zindex": 1, "title": null}}
      }
    },
    {
      "data": {"name": "botCurve"},
      "mark": {"type": "square", "size": 12, "color": "black", "opacity": 1},
      "encoding": {
        "x": {"field": "d", "type": "quantitative", "scale": {"domain": [0, 1391], "nice": false, "zero": false},
              "axis": {"orient": "top", "values": [0,115.9167,231.8333,347.75,463.6667,579.5833,695.5,811.4167,927.3333,1043.25,1159.1667,1275.0833,1391], "labels": false, "ticks": true, "tickSize": 8, "offset": -8, "zindex": 1, "title": null}},
        "y": {"field": "v", "type": "quantitative", "scale": {"domain": [10, 40], "nice": false, "zero": false},
              "axis": {"orient": "left", "values": [10,11,12,13,14,15,16,17,18,19,20,21,22,23,24,25,26,27,28,29,30,31,32,33,34,35,36,37,38,39,40], "labels": false, "ticks": true, "tickSize": 12, "offset": -12, "zindex": 1, "title": null}}
      }
    },
    {
      "data": {"name": "botFit"},
      "mark": {"type": "line", "color": "black", "strokeWidth": 1.2, "clip": true},
      "encoding": {
        "x": {"field": "d", "type": "quantitative", "scale": {"domain": [0, 1391], "nice": false, "zero": false}, "axis": null},
        "y": {"field": "v", "type": "quantitative", "scale": {"domain": [10, 40], "nice": false, "zero": false},
              "axis": {"orient": "right", "values": [10, 20, 30, 40], "labels": false, "ticks": true, "tickSize": 22, "offset": -22, "zindex": 1, "title": null}}
      }
    },
    {
      "data": {"name": "botNotes"},
      "mark": {"type": "text", "align": "left", "baseline": "alphabetic", "fontSize": 19.5, "font": "DejaVu Sans", "color": "black"},
      "encoding": {
        "x": {"field": "d", "type": "quantitative", "scale": {"domain": [0, 1391], "nice": false, "zero": false}, "axis": null},
        "y": {"field": "v", "type": "quantitative", "scale": {"domain": [10, 40], "nice": false, "zero": false},
              "axis": {"orient": "right", "values": [10,11,12,13,14,15,16,17,18,19,20,21,22,23,24,25,26,27,28,29,30,31,32,33,34,35,36,37,38,39,40], "labels": false, "ticks": true, "tickSize": 12, "offset": -12, "zindex": 1, "title": null}},
        "text": {"field": "label", "type": "nominal"}
      }
    },
    {
      "data": {"name": "botSpikes"},
      "mark": {"type": "square", "size": 9, "color": "black", "opacity": 1},
      "encoding": {
        "x": {"field": "d", "type": "quantitative", "scale": {"domain": [0, 1391], "nice": false, "zero": false}, "axis": null},
        "y": {"field": "v", "type": "quantitative", "scale": {"domain": [10, 40], "nice": false, "zero": false}, "axis": null}
      }
    }
  ]
}
]
}
